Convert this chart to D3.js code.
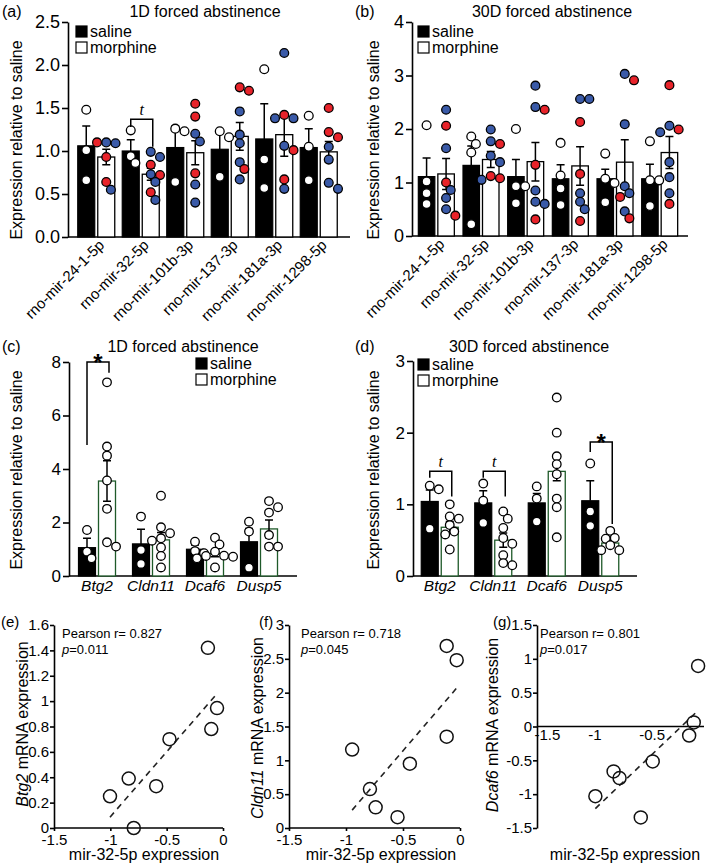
<!DOCTYPE html>
<html><head><meta charset="utf-8">
<script src="https://cdn.jsdelivr.net/npm/d3@7"></script>
<style>
body{margin:0;background:#fff;}
svg{font-family:"Liberation Sans",Arial,Helvetica,sans-serif;}
</style></head><body>
<svg id="fig" width="709" height="868"></svg>
<script>
// ---------------- DATA ----------------
const mirs = ["rno-mir-24-1-5p","rno-mir-32-5p","rno-mir-101b-3p","rno-mir-137-3p","rno-mir-181a-3p","rno-mir-1298-5p"];
const genes = ["Btg2","Cldn11","Dcaf6","Dusp5"];
const groups = ["saline","morphine"];

// (a) 1D forced abstinence, miRNAs
const aSalMean = [1.06, 1.00, 1.04, 1.02, 1.14, 1.04];
const aSalSem  = [0.23, 0.13, 0.25, 0.21, 0.41, 0.22];
const aMorMean = [0.93, 0.73, 0.98, 1.17, 1.19, 0.99];
const aMorSem  = [0.09, 0.07, 0.14, 0.16, 0.25, 0.12];
const aSalPts = [[1.48,1.01,0.66],[1.24,0.94,0.86],[1.26,1.23,0.64],[1.23,1.16,0.70],[1.95,0.90,0.57],[1.41,1.05,0.66]];
const aMorPts = [[1.10,1.09,1.10,0.93,0.64,0.55],[0.99,0.93,0.84,0.73,0.72,0.64,0.52,0.43],[1.55,1.40,1.20,1.11,0.74,0.61,0.40],[1.74,1.70,1.46,1.19,1.09,0.87,0.79,0.67],[2.14,1.42,1.38,1.38,1.06,1.01,0.67,0.56],[1.50,1.22,1.16,1.05,0.90,0.63,0.56]];
const aMorSex = [["B","B","R","R","R","B"],["B","B","R","B","R","B","R","B"],["R","R","B","B","R","B","B"],["R","R","B","B","B","B","R","B"],["B","R","B","B","B","R","R","B"],["R","R","R","B","B","B","B"]];
const aTicks = [0,0.5,1.0,1.5,2.0,2.5];
const aBrackets = [{g:1, top:1.37, l:1.28, r:1.05, mark:"t"}];

// (b) 30D forced abstinence, miRNAs
const bSalMean = [1.11, 1.32, 1.11, 1.07, 1.07, 1.07];
const bSalSem  = [0.35, 0.36, 0.32, 0.26, 0.18, 0.27];
const bMorMean = [1.16, 1.43, 1.39, 1.31, 1.38, 1.56];
const bMorSem  = [0.29, 0.15, 0.36, 0.36, 0.42, 0.30];
const bSalPts = [[2.07,1.02,0.80,0.60],[1.86,1.72,1.56,0.22],[2.00,0.93,0.93,0.61],[1.74,1.13,0.89,0.58],[1.54,1.07,0.99,0.63],[1.77,1.04,1.04,0.56]];
const bMorPts = [[2.36,2.06,1.64,1.00,0.86,0.71,0.50,0.38],[1.99,1.77,1.72,1.50,1.38,1.12,1.08,1.05],[2.81,2.41,2.36,1.33,0.85,0.64,0.60,0.31],[2.56,2.56,2.13,1.16,0.80,0.64,0.50,0.28],[3.03,2.91,2.09,0.93,0.80,0.73,0.46,0.33],[2.82,2.06,1.99,1.94,1.38,1.10,0.80,0.60]];
const bMorSex = [["B","R","B","R","B","B","B","R"],["B","B","R","B","B","R","R","B"],["B","B","R","R","B","B","B","R"],["B","B","R","R","B","B","B","R"],["B","R","B","B","B","R","B","R"],["R","B","R","B","B","B","B","R"]];
const bTicks = [0,1,2,3,4];

// (c) 1D forced abstinence, mRNAs
const cSalMean = [1.06, 1.20, 1.00, 1.28];
const cSalSem  = [0.35, 0.55, 0.16, 0.50];
const cMorMean = [3.55, 1.35, 0.84, 1.76];
const cMorSem  = [0.76, 0.28, 0.12, 0.33];
const cSalPts = [[1.72,0.91,0.66],[2.22,0.97,0.45],[1.28,0.93,0.85],[2.03,1.66,0.31]];
const cMorPts = [[7.24,4.84,4.50,3.57,2.51,1.26,1.10],[3.00,1.82,1.60,1.41,1.32,1.07,0.75,0.32],[1.43,1.18,0.91,0.76,0.75,0.72,0.66,0.32],[2.80,2.57,2.37,1.53,1.10,1.10]];
const cTicks = [0,2,4,6,8];
const cBrackets = [{g:0, top:8.0, l:4.9, r:7.6, mark:"*"}];

// (d) 30D forced abstinence, mRNAs
const dSalMean = [1.04, 1.02, 1.02, 1.05];
const dSalSem  = [0.16, 0.17, 0.13, 0.28];
const dMorMean = [0.68, 0.50, 1.46, 0.46];
const dMorSem  = [0.08, 0.10, 0.13, 0.05];
const dSalPts = [[1.26,1.21,0.66],[1.29,1.05,0.74],[1.25,1.08,0.76],[1.57,0.90,0.70]];
const dMorPts = [[1.00,0.83,0.80,0.71,0.62,0.58,0.37],[0.90,0.80,0.67,0.53,0.45,0.29,0.18,0.15],[2.49,2.00,1.67,1.56,1.42,1.08,0.96,0.54],[0.63,0.53,0.52,0.43,0.36,0.36]];
const dTicks = [0,1,2,3];
const dBrackets = [{g:0, top:1.46, l:1.37, r:1.11, mark:"t"},{g:1, top:1.46, l:1.37, r:1.11, mark:"t"},{g:3, top:1.87, l:1.73, r:0.725, mark:"*"}];

// (e)-(g) correlations with mir-32-5p
const eX = [-0.134,-0.053,-0.104,-0.475,-0.837,-0.593,-1.003,-0.792];
const eY = [1.42,0.945,0.78,0.70,0.39,0.33,0.25,0.0];
const fX = [-0.117,-0.029,-0.117,-0.946,-0.44,-0.79,-0.74,-0.548];
const fY = [2.69,2.48,1.35,1.16,0.95,0.575,0.305,0.16];
const gX = [-0.095,-0.133,-0.173,-0.491,-0.832,-0.780,-0.991,-0.595];
const gY = [0.895,0.06,-0.133,-0.516,-0.664,-0.762,-1.03,-1.343];
const corrXTicks = [-1.5,-1,-0.5,0];
const eYTicks = [0,0.2,0.4,0.6,0.8,1,1.2,1.4,1.6];
const fYTicks = [0,0.5,1,1.5,2,2.5,3];
const gYTicks = [-1.5,-1,-0.5,0,0.5,1,1.5];
const pearsonR = ["0.827","0.718","0.801"];
const pearsonP = ["0.011","0.045","0.017"];

// ---------------- DRAWING ----------------
const svg = d3.select("#fig");
const SEXCOL = {B:"#3a5aa8", R:"#e8232a"};
const serif = '"Liberation Serif","Times New Roman",serif';

function swarm(vals, y, r) {
  const placed = [];
  const step = r * 1.05;
  return vals.map(v => {
    const py = y(v);
    let off = 0;
    for (let k = 0; k < 40; k++) {
      const o = k === 0 ? 0 : (k % 2 ? 1 : -1) * Math.ceil(k / 2) * step;
      if (placed.every(p => (p.x - o) ** 2 + (p.y - py) ** 2 >= (2 * r * 0.9) ** 2)) { off = o; break; }
    }
    placed.push({x: off, y: py});
    return off;
  });
}

function barPanel(o) {
  const g = svg.append("g");
  const x = d3.scaleBand().domain(o.cats).range(o.band).padding(0);
  const y = d3.scaleLinear().domain([0, o.yMax]).range(o.yRange);
  const bw = o.bw, gap = 1.5, r = o.r;
  const cx = c => x(c) + x.bandwidth() / 2;
  const sx = c => cx(c) - gap - bw / 2;   // saline bar centre
  const mx = c => cx(c) + gap + bw / 2;   // morphine bar centre

  // axes
  const ya = d3.axisLeft(y).tickValues(o.ticks).tickFormat(o.fmt).tickSize(6).tickPadding(2).tickSizeOuter(0);
  const yg = g.append("g").attr("transform", `translate(${o.axX},0)`).call(ya);
  yg.selectAll("path,line").attr("stroke", "#000").attr("stroke-width", 1.6);
  yg.selectAll("text").attr("font-size", o.tickFs).attr("fill", "#000").attr("font-family", "inherit");
  g.append("line").attr("x1", o.axX).attr("x2", o.axEnd).attr("y1", y(0)).attr("y2", y(0))
    .attr("stroke", "#000").attr("stroke-width", 1.6);

  // bars
  o.cats.forEach((c, i) => {
    g.append("rect").attr("x", sx(c) - bw / 2).attr("width", bw)
      .attr("y", y(o.salMean[i])).attr("height", y(0) - y(o.salMean[i]))
      .attr("fill", "#000").attr("stroke", "#000").attr("stroke-width", 1.2);
    g.append("rect").attr("x", mx(c) - bw / 2).attr("width", bw)
      .attr("y", y(o.morMean[i])).attr("height", y(0) - y(o.morMean[i]))
      .attr("fill", "#fff").attr("stroke", o.morStroke).attr("stroke-width", 1.3);
  });
  // error bars
  const cap = 4;
  o.cats.forEach((c, i) => {
    const s = sx(c), m = mx(c);
    const sTop = y(o.salMean[i] + o.salSem[i]);
    g.append("path").attr("d", `M${s},${y(o.salMean[i])}V${sTop}M${s - cap},${sTop}H${s + cap}`)
      .attr("stroke", "#000").attr("stroke-width", 1.5).attr("fill", "none");
    const mTop = y(o.morMean[i] + o.morSem[i]), mBot = y(o.morMean[i] - o.morSem[i]);
    g.append("path").attr("d", `M${m},${mBot}V${mTop}M${m - cap},${mTop}H${m + cap}M${m - cap},${mBot}H${m + cap}`)
      .attr("stroke", "#000").attr("stroke-width", 1.5).attr("fill", "none");
  });
  // points
  o.cats.forEach((c, i) => {
    const so = swarm(o.salPts[i], y, r);
    o.salPts[i].forEach((v, j) => {
      g.append("circle").attr("cx", sx(c) + so[j]).attr("cy", y(v)).attr("r", r)
        .attr("fill", "#fff").attr("stroke", "#000").attr("stroke-width", 1.3);
    });
    const mo = swarm(o.morPts[i], y, r);
    o.morPts[i].forEach((v, j) => {
      g.append("circle").attr("cx", mx(c) + mo[j]).attr("cy", y(v)).attr("r", r)
        .attr("fill", o.morSex ? SEXCOL[o.morSex[i][j]] : "#fff")
        .attr("stroke", "#000").attr("stroke-width", 1.3);
    });
  });
  // brackets
  (o.brackets || []).forEach(b => {
    const c = o.cats[b.g];
    const xl = sx(c), xr = mx(c) + 2;
    g.append("path").attr("d", `M${xl},${y(b.l)}V${y(b.top)}H${xr}V${y(b.r)}`)
      .attr("stroke", "#000").attr("stroke-width", 1.5).attr("fill", "none");
    if (b.mark === "t") {
      g.append("text").attr("x", (xl + xr) / 2).attr("y", y(b.top) - 4).attr("text-anchor", "middle")
        .attr("font-family", serif).attr("font-style", "italic").attr("font-size", 16).text("t");
    } else {
      g.append("text").attr("x", (xl + xr) / 2).attr("y", y(b.top) + 9).attr("text-anchor", "middle")
        .attr("font-weight", "bold").attr("font-size", 24).text("*");
    }
  });
  // category labels
  o.cats.forEach(c => {
    if (o.rot) {
      g.append("text").attr("transform", `translate(${cx(c) + 9},${y(0) + 9}) rotate(-45)`)
        .attr("text-anchor", "end").attr("font-size", 15).text(c);
    } else {
      g.append("text").attr("x", cx(c)).attr("y", y(0) + 15).attr("text-anchor", "middle")
        .attr("font-style", "italic").attr("font-size", 15.5).text(c);
    }
  });
  // y title
  g.append("text").attr("transform", `translate(${o.ytX},${o.ytY}) rotate(-90)`)
    .attr("text-anchor", "middle").attr("font-size", 16).text("Expression relative to saline");
  // legend
  groups.forEach((gr, k) => {
    const ly = o.leg[1] + k * 16;
    g.append("rect").attr("x", o.leg[0]).attr("y", ly).attr("width", 11).attr("height", 11)
      .attr("fill", k === 0 ? "#000" : "#fff").attr("stroke", "#000").attr("stroke-width", 1.2);
    g.append("text").attr("x", o.leg[0] + 14).attr("y", ly + 11).attr("font-size", 16).text(gr);
  });
  // title & panel letter
  g.append("text").attr("x", o.title[0]).attr("y", o.title[1]).attr("text-anchor", "middle")
    .attr("font-size", 16).text(o.titleText);
  g.append("text").attr("x", o.letter[0]).attr("y", o.letter[1]).attr("font-size", 16).text(o.letterText);
}

barPanel({cats: mirs, salMean: aSalMean, salSem: aSalSem, morMean: aMorMean, morSem: aMorSem,
  salPts: aSalPts, morPts: aMorPts, morSex: aMorSex, yMax: 2.5, ticks: aTicks, fmt: d3.format(".1f"),
  band: [74, 341], yRange: [237, 22], axX: 68, axEnd: 350, bw: 17, r: 4.4, tickFs: 18,
  morStroke: "#000", brackets: aBrackets, rot: true, ytX: 22, ytY: 140, leg: [76, 26],
  title: [205, 17], titleText: "1D forced abstinence", letter: [2, 17], letterText: "(a)"});

barPanel({cats: mirs, salMean: bSalMean, salSem: bSalSem, morMean: bMorMean, morSem: bMorSem,
  salPts: bSalPts, morPts: bMorPts, morSex: bMorSex, yMax: 4, ticks: bTicks, fmt: d3.format("d"),
  band: [414, 682], yRange: [236, 22], axX: 412, axEnd: 688, bw: 16.5, r: 4.4, tickFs: 18,
  morStroke: "#000", brackets: [], rot: true, ytX: 379, ytY: 140, leg: [418, 26],
  title: [552, 17], titleText: "30D forced abstinence", letter: [355, 17], letterText: "(b)"});

barPanel({cats: genes, salMean: cSalMean, salSem: cSalSem, morMean: cMorMean, morSem: cMorSem,
  salPts: cSalPts, morPts: cMorPts, morSex: null, yMax: 8, ticks: cTicks, fmt: d3.format("d"),
  band: [70, 286], yRange: [576, 362], axX: 69, axEnd: 297, bw: 17, r: 4.3, tickFs: 17,
  morStroke: "#1f5a2a", brackets: cBrackets, rot: false, ytX: 22, ytY: 470, leg: [196, 358],
  title: [183, 352], titleText: "1D forced abstinence", letter: [2, 352], letterText: "(c)"});

barPanel({cats: genes, salMean: dSalMean, salSem: dSalSem, morMean: dMorMean, morSem: dMorSem,
  salPts: dSalPts, morPts: dMorPts, morSex: null, yMax: 3, ticks: dTicks, fmt: d3.format("d"),
  band: [413, 627], yRange: [576, 361], axX: 413, axEnd: 637, bw: 17, r: 4.3, tickFs: 17,
  morStroke: "#1f5a2a", brackets: dBrackets, rot: false, ytX: 379, ytY: 470, leg: [418, 359],
  title: [529, 352], titleText: "30D forced abstinence", letter: [355, 352], letterText: "(d)"});

function corrPanel(o) {
  const g = svg.append("g");
  const x = d3.scaleLinear().domain([-1.5, 0]).range(o.xr);
  const y = d3.scaleLinear().domain([o.yTicks[0], o.yTicks[o.yTicks.length - 1]]).range([828, 625]);
  const fmt = d => String(d);
  const ya = d3.axisLeft(y).tickValues(o.yTicks).tickFormat(fmt).tickSize(4).tickPadding(1).tickSizeOuter(0);
  const yg = g.append("g").attr("transform", `translate(${o.xr[0]},0)`).call(ya);
  yg.selectAll("path,line").attr("stroke", "#000").attr("stroke-width", 1.6);
  yg.selectAll("text").attr("font-size", 15).attr("fill", "#000").attr("font-family", "inherit");
  const y0 = y(Math.max(0, o.yTicks[0]));
  const xa = d3.axisBottom(x).tickValues(o.xTickShow).tickFormat(fmt).tickSize(o.xTickSize).tickPadding(3).tickSizeOuter(0);
  const xg = g.append("g").attr("transform", `translate(0,${y0})`).call(xa);
  xg.select("path.domain").remove();
  xg.selectAll("line").attr("stroke", "#000").attr("stroke-width", 1.6);
  xg.selectAll("text").attr("font-size", 15).attr("fill", "#000").attr("font-family", "inherit");
  if (o.firstStart) xg.selectAll("text").filter(d => d === -1.5).attr("text-anchor", "start").attr("dx", -3);
  g.append("line").attr("x1", o.xr[0]).attr("x2", o.axEnd).attr("y1", y0).attr("y2", y0)
    .attr("stroke", "#000").attr("stroke-width", 1.6);
  // regression
  const mx = d3.mean(o.xs), my = d3.mean(o.ys);
  const slope = d3.sum(o.xs, (v, i) => (v - mx) * (o.ys[i] - my)) / d3.sum(o.xs, v => (v - mx) ** 2);
  const [xa0, xa1] = d3.extent(o.xs);
  g.append("line").attr("x1", x(xa0)).attr("y1", y(my + slope * (xa0 - mx)))
    .attr("x2", x(xa1)).attr("y2", y(my + slope * (xa1 - mx)))
    .attr("stroke", "#222").attr("stroke-width", 1.6).attr("stroke-dasharray", "6,5");
  // points
  o.xs.forEach((v, i) => {
    g.append("circle").attr("cx", x(v)).attr("cy", y(o.ys[i])).attr("r", 6.5)
      .attr("fill", "none").attr("stroke", "#111").attr("stroke-width", 1.5);
  });
  // texts
  g.append("text").attr("x", o.txtX).attr("y", 638).attr("font-size", 13).text("Pearson r= " + o.r);
  const pt = g.append("text").attr("x", o.txtX).attr("y", 654).attr("font-size", 13);
  pt.append("tspan").attr("font-style", "italic").text("p");
  pt.append("tspan").text("=" + o.p);
  const yt = g.append("text").attr("transform", `translate(${o.ytX},${o.ytY}) rotate(-90)`)
    .attr("text-anchor", "middle").attr("font-size", 16);
  yt.append("tspan").attr("font-style", "italic").text(o.gene);
  yt.append("tspan").text(" mRNA expression");
  g.append("text").attr("x", o.xtX).attr("y", 860).attr("text-anchor", "middle").attr("font-size", 16)
    .text("mir-32-5p expression");
  g.append("text").attr("x", o.letter[0]).attr("y", o.letter[1]).attr("font-size", 15).text(o.letterText);
}

corrPanel({xs: eX, ys: eY, yTicks: eYTicks, xr: [54, 223], axEnd: 223, xTickShow: corrXTicks, xTickSize: 3,
  r: pearsonR[0], p: pearsonP[0], txtX: 62, gene: "Btg2", ytX: 28, ytY: 724, xtX: 144,
  letter: [1, 627], letterText: "(e)"});
corrPanel({xs: fX, ys: fY, yTicks: fYTicks, xr: [289, 460], axEnd: 460, xTickShow: corrXTicks, xTickSize: 3,
  r: pearsonR[1], p: pearsonP[1], txtX: 301, gene: "Cldn11", ytX: 263, ytY: 728, xtX: 381,
  letter: [259, 627], letterText: "(f)"});
corrPanel({xs: gX, ys: gY, yTicks: gYTicks, xr: [537, 709], axEnd: 704, xTickShow: corrXTicks.slice(0, 3), xTickSize: 0,
  firstStart: true, r: pearsonR[2], p: pearsonP[2], txtX: 540, gene: "Dcaf6", ytX: 498, ytY: 725, xtX: 625,
  letter: [493, 627], letterText: "(g)"});
</script>
</body></html>
